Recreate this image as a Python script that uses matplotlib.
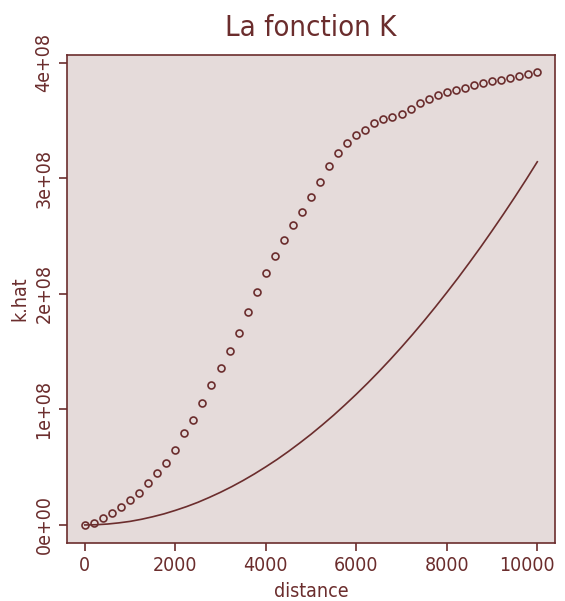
import numpy as np
import matplotlib.pyplot as plt
import matplotlib.transforms as mtransforms

# Estimated K function (points) and theoretical pi*d^2 curve (line)
distance = np.arange(0, 10001, 200)
k_hat = np.array([
    0.000, 0.020, 0.060, 0.107, 0.159, 0.214, 0.280, 0.360, 0.447, 0.536,
    0.649, 0.793, 0.912, 1.059, 1.211, 1.358, 1.503, 1.664, 1.846, 2.019,
    2.183, 2.324, 2.465, 2.595, 2.705, 2.837, 2.967, 3.103, 3.215, 3.302,
    3.377, 3.420, 3.481, 3.510, 3.533, 3.553, 3.599, 3.651, 3.689, 3.720,
    3.743, 3.763, 3.784, 3.804, 3.824, 3.838, 3.850, 3.864, 3.882, 3.899,
    3.916]) * 1e8

line_distance = np.arange(0, 10001, 250)
k_theo = np.array([
    0.000, 0.002, 0.008, 0.018, 0.031, 0.049, 0.071, 0.096, 0.126, 0.159,
    0.196, 0.238, 0.283, 0.332, 0.385, 0.442, 0.503, 0.567, 0.636, 0.709,
    0.785, 0.866, 0.950, 1.039, 1.131, 1.227, 1.327, 1.431, 1.539, 1.651,
    1.767, 1.887, 2.011, 2.138, 2.270, 2.405, 2.545, 2.688, 2.835, 2.986,
    3.142]) * 1e8

col = '#6b2d2d'
bg = '#e5dbda'

plt.rcParams['font.family'] = ['DejaVu Sans']
plt.rcParams['font.stretch'] = 'condensed'

fig = plt.figure(figsize=(5.65, 6.01), dpi=100)
ax = fig.add_axes([0.118, 0.0965, 0.865, 0.812])
ax.set_facecolor(bg)

ax.plot(distance, k_hat, 'o', mfc='none', mec=col, ms=5, mew=1.2)
ax.plot(line_distance, k_theo, '-', color=col, lw=1.2)

ax.set_xlim(-400, 10400)
ax.set_ylim(-0.156e8, 4.066e8)

ax.set_xticks([0, 2000, 4000, 6000, 8000, 10000])
ax.set_xticklabels(['0', '2000', '4000', '6000', '8000', '10000'])
ax.set_yticks([0, 1e8, 2e8, 3e8, 4e8])
ax.set_yticklabels(['0e+00', '1e+08', '2e+08', '3e+08', '4e+08'],
                   rotation=90, va='center')

ax.tick_params(colors=col, labelcolor=col, labelsize=14, length=6, width=1.2)
# last x label is nudged left so it stays inside the figure
last = ax.get_xticklabels()[-1]
last.set_transform(last.get_transform() +
                   mtransforms.ScaledTranslation(-10 / 100, 0, fig.dpi_scale_trans))
for s in ax.spines.values():
    s.set_color(col)
    s.set_linewidth(1.2)

ax.set_title('La fonction K', color=col, fontsize=21, pad=14)
ax.set_xlabel('distance', color=col, fontsize=14, labelpad=5)
ax.set_ylabel('k.hat', color=col, fontsize=14, labelpad=4)

fig.savefig('out.png', dpi=100, facecolor='white')
